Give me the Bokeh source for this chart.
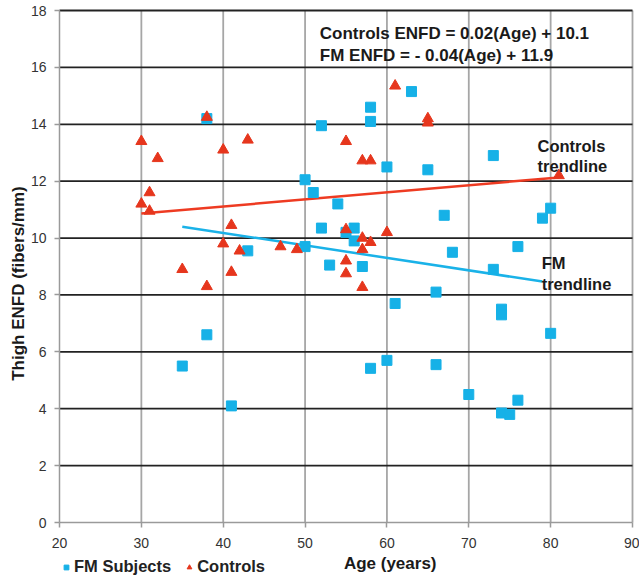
from bokeh.plotting import figure
from bokeh.models import Label, Legend, LegendItem, FixedTicker, Range1d
from bokeh.embed import file_html
from bokeh.resources import INLINE
import math

# ---- data ----
fm_age = [35, 38, 38, 41, 43, 50, 50, 51, 52, 52, 53, 54, 55, 56, 56, 57, 58, 58, 58, 60,
          60, 61, 63, 65, 66, 66, 67, 68, 70, 73, 73, 74, 74, 74, 75, 76, 76, 79, 80, 80]
fm_enfd = [5.5, 6.6, 14.2, 4.1, 9.55, 9.7, 12.05, 11.6, 13.95, 10.35, 9.05, 11.2, 10.2, 10.35, 9.9,
           9.0, 14.6, 14.1, 5.42, 12.5, 5.7, 7.7, 15.15, 12.4, 8.1, 5.55, 10.8, 9.5, 4.5, 12.9,
           8.9, 7.5, 7.3, 3.85, 3.8, 9.7, 4.3, 10.7, 11.05, 6.65]

ctrl_age = [30, 30, 31, 31, 32, 35, 38, 38, 40, 40, 41, 41, 42, 43, 47, 49, 55, 55, 55, 55,
            57, 58, 57, 58, 57, 57, 60, 61, 65, 65, 81]
ctrl_enfd = [13.4, 11.2, 11.6, 10.95, 12.8, 8.9, 14.25, 8.3, 13.1, 9.8, 10.45, 8.8, 9.55, 13.45,
             9.7, 9.6, 13.4, 10.3, 9.2, 8.75, 12.72, 12.72, 10.0, 9.85, 9.6, 8.27, 10.2, 15.35,
             14.2, 14.05, 12.2]

ctrl_trend_x = [30, 81]
ctrl_trend_y = [10.86, 12.13]
fm_trend_x = [35, 79]
fm_trend_y = [10.4, 8.47]

x_ticks = [20, 30, 40, 50, 60, 70, 80, 90]
y_ticks = [0, 2, 4, 6, 8, 10, 12, 14, 16, 18]

BLUE = "#16b1e7"
RED = "#e6361d"
FONT = "Liberation Sans"

# layout: plot area spans px 59..632 horizontally, 10..522 vertically in a 639x579 canvas
W, H = 639, 579
PX_L, PX_R, PX_T, PX_B = 59, 632, 10, 522
kx = (PX_R - PX_L) / (x_ticks[-1] - x_ticks[0])
ky = (PX_B - PX_T) / (y_ticks[-1] - y_ticks[0])
x_rng = Range1d(x_ticks[0] - PX_L / kx, x_ticks[-1] + (W - PX_R) / kx)
y_rng = Range1d(y_ticks[0] - (H - PX_B) / ky, y_ticks[-1] + PX_T / ky)

p = figure(width=W, height=H, output_backend="svg", toolbar_location=None,
           x_range=x_rng, y_range=y_rng,
           min_border_left=0, min_border_right=0, min_border_top=0, min_border_bottom=0)
p.background_fill_color = "white"
p.border_fill_color = "white"
p.outline_line_color = None
p.grid.visible = False

p.xaxis.ticker = FixedTicker(ticks=x_ticks)
p.yaxis.ticker = FixedTicker(ticks=y_ticks)
p.xaxis.fixed_location = y_ticks[0]
p.yaxis.fixed_location = x_ticks[0]
p.xaxis.bounds = (x_ticks[0], x_ticks[-1])
p.yaxis.bounds = (y_ticks[0], y_ticks[-1])
for ax in (p.xaxis[0], p.yaxis[0]):
    ax.axis_line_color = "#9a9a9a"
    ax.axis_line_width = 1.5
    ax.major_tick_line_color = "#9a9a9a"
    ax.major_tick_line_width = 1.5
    ax.major_tick_in = 0
    ax.major_tick_out = 5
    ax.minor_tick_line_color = None
    ax.major_label_text_font = FONT
    ax.major_label_text_font_size = "14px"
    ax.major_label_text_color = "#333333"
p.xaxis.major_label_standoff = 10
p.yaxis.major_label_standoff = 8

# grid lines (at the tick positions)
vx = x_ticks[1:]
p.segment(x0=vx, y0=[y_ticks[0]] * len(vx), x1=vx, y1=[y_ticks[-1]] * len(vx),
          line_color="#a6a6a6", line_width=1.8)
hy = y_ticks[1:]
p.segment(x0=[x_ticks[0]] * len(hy), y0=hy, x1=[x_ticks[-1]] * len(hy), y1=hy,
          line_color="#222222", line_width=1.8)

# trendlines
p.line(ctrl_trend_x, ctrl_trend_y, line_color="#ee3b22", line_width=2.5)
p.line(fm_trend_x, fm_trend_y, line_color="#1ab2e8", line_width=2.5)

fm_r = p.scatter(fm_age, fm_enfd, marker="square", size=10, fill_color=BLUE, line_color=BLUE)
ct_r = p.scatter(ctrl_age, ctrl_enfd, marker="triangle", size=11, fill_color=RED, line_color=RED)

legend = Legend(items=[LegendItem(label="FM Subjects", renderers=[fm_r]),
                       LegendItem(label="Controls", renderers=[ct_r])],
                location=(60, 3), orientation="horizontal",
                label_text_font=FONT, label_text_font_size="16.5px", label_text_font_style="bold",
                label_text_color="#222222",
                glyph_width=12, glyph_height=14, label_height=14, label_standoff=2,
                spacing=12, padding=0, margin=0,
                background_fill_alpha=0, border_line_color=None)
p.add_layout(legend, "center")

def lab(x, y, text, **kw):
    opts = dict(text_font=FONT, text_font_size="16.5px", text_font_style="bold",
                text_color="#1a1a1a", text_baseline="middle")
    opts.update(kw)
    p.add_layout(Label(x=x, y=y, text=text, **opts))

# equations
lab(51.8, 17.19, "Controls ENFD = 0.02(Age) + 10.1", text_font_size="17px")
lab(51.8, 16.42, "FM ENFD = - 0.04(Age) + 11.9", text_font_size="17px")
# trendline labels
lab(78.4, 13.22, "Controls")
lab(78.4, 12.55, "trendline")
lab(78.9, 9.11, "FM")
lab(78.9, 8.40, "trendline")
# axis titles
lab(60.4, -1.44, "Age (years)", text_align="center", text_font_size="17px")
lab(15.0, 8.4, "Thigh ENFD (fibers/mm)", text_align="center", angle=math.pi / 2,
    text_font_size="17px")

open("out.html", "w").write(file_html(p, INLINE))
